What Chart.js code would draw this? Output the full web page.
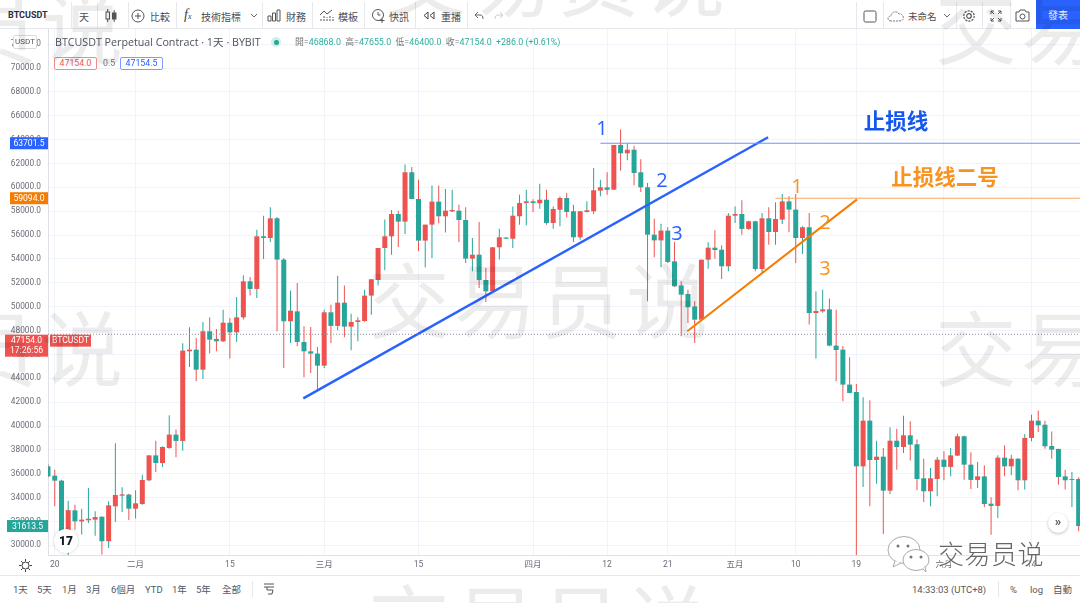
<!DOCTYPE html>
<html>
<head>
<meta charset="utf-8">
<title>BTCUSDT</title>
<script src="https://cdn.jsdelivr.net/npm/chart.js@4"></script>
<style>
html, body { margin: 0; padding: 0; background: #fff; }
#wrap { position: relative; width: 1080px; height: 603px; overflow: hidden; font-family: Roboto, "Noto Sans CJK TC", sans-serif; color: #50535e; filter: blur(0.3px); }
#chart { position: absolute; left: 0; top: 0; }
.abs { position: absolute; white-space: nowrap; }
.tb { font-size: 10px; top: 10px; line-height: 13px; font-family: "Noto Sans CJK TC", sans-serif; color: #4a4d57; }
.sep { position: absolute; top: 2px; width: 1px; height: 26px; background: #e6e8ee; }
.ft { font-size: 9.5px; top: 583px; line-height: 13px; color: #555862; font-family: Roboto, "Noto Sans CJK TC", sans-serif; }
.mark { position: absolute; white-space: nowrap; font-family: "Noto Sans CJK SC", sans-serif; font-weight: 400; font-size: 82px; letter-spacing: 4px; line-height: 86px; color: rgba(0,0,0,0.075); pointer-events: none; }
.num { position: absolute; font-family: "Open Sans", sans-serif; font-size: 20px; line-height: 24px; transform: translate(-50%, -50%); }
.blue { color: #2962ff; }
.orange { color: #f7931e; }
.note { position: absolute; font-family: "Noto Sans CJK SC", sans-serif; font-weight: 700; font-size: 21.5px; line-height: 26px; white-space: nowrap; transform: translate(-50%, -50%); }
svg { position: absolute; overflow: visible; }
</style>
</head>
<body>
<div id="wrap">
  <canvas id="chart" width="1080" height="603"></canvas>

  <!-- toolbar -->
  <div class="abs" style="left:0;top:0;width:1080px;height:29px;background:#fff;border-bottom:1px solid #e6e8ee;box-sizing:border-box"></div>
  <div class="abs tb" style="left:8px;font:700 9px Roboto;top:10px;color:#2a2e39">BTCUSDT</div>
  <div class="sep" style="left:71px"></div><div class="sep" style="left:97px"></div><div class="sep" style="left:128px"></div>
  <div class="sep" style="left:176px"></div><div class="sep" style="left:262px"></div><div class="sep" style="left:312px"></div>
  <div class="sep" style="left:364px"></div><div class="sep" style="left:415px"></div><div class="sep" style="left:467px"></div>
  <div class="sep" style="left:856px"></div><div class="sep" style="left:883px"></div><div class="sep" style="left:956px"></div>
  <div class="sep" style="left:982px"></div><div class="sep" style="left:1010px"></div>
  <div class="abs tb" style="left:79px">天</div>
  <svg style="left:105px;top:9px" width="12" height="14" fill="none" stroke="#555" stroke-width="1"><rect x="1" y="3" width="3.5" height="7"/><rect x="7.5" y="4" width="3.5" height="6" fill="#555"/><path d="M2.7 0v3M2.7 10v3M9.2 1v3M9.2 10v3"/></svg>
  <svg style="left:131px;top:9px" width="14" height="14" fill="none" stroke="#555" stroke-width="1"><circle cx="7" cy="7" r="6"/><path d="M7 4v6M4 7h6"/></svg>
  <div class="abs tb" style="left:150px">比較</div>
  <div class="abs tb" style="left:184px;top:7px;font:italic 14px 'Liberation Serif';color:#444">f<span style="font-size:8px">x</span></div>
  <div class="abs tb" style="left:201px">技術指標</div>
  <svg style="left:250px;top:13px" width="8" height="5" fill="none" stroke="#666"><path d="M1 1l3 3 3-3"/></svg>
  <svg style="left:267px;top:9px" width="14" height="13" fill="none" stroke="#555"><path d="M1 7h3v5H1zM5.5 4h3v8h-3zM10 1h3v11h-3z"/></svg>
  <div class="abs tb" style="left:286px">財務</div>
  <svg style="left:319px;top:9px" width="15" height="13" fill="none" stroke="#555"><path d="M1 6l4-4 3 3 5-4" /><path d="M2 12V9M5 12V7M8 12V8M11 12V6M14 12V8" stroke-dasharray="2 1"/></svg>
  <div class="abs tb" style="left:338px">模板</div>
  <svg style="left:371px;top:8px" width="15" height="15" fill="none" stroke="#555"><circle cx="7" cy="7" r="5.5"/><path d="M7 4v3h2.5M11 10v5M8.5 12.5h5"/></svg>
  <div class="abs tb" style="left:389px">快訊</div>
  <svg style="left:423px;top:11px" width="12" height="9" fill="none" stroke="#444"><path d="M5 1L1 4.5 5 8zM11 1L7 4.5 11 8z"/></svg>
  <div class="abs tb" style="left:441px">重播</div>
  <svg style="left:474px;top:11px" width="10" height="9" fill="none" stroke="#666"><path d="M4 1L1 4l3 3M1 4h5c2 0 3 1 3 4"/></svg>
  <svg style="left:494px;top:11px" width="10" height="9" fill="none" stroke="#ccc"><path d="M6 1l3 3-3 3M9 4H4C2 4 1 5 1 8"/></svg>
  <svg style="left:863px;top:9px" width="14" height="14" fill="none" stroke="#555"><rect x="1" y="2" width="12" height="11" rx="1.5"/></svg>
  <svg style="left:887px;top:9px" width="18" height="13" fill="none" stroke="#777" stroke-dasharray="2 1"><path d="M4 12C0 12 0 7 4 7 4 3 10 1 12 5 17 4 18 12 13 12z"/></svg>
  <div class="abs tb" style="left:908px;font-size:9.5px">未命名</div>
  <svg style="left:943px;top:13px" width="8" height="5" fill="none" stroke="#666"><path d="M1 1l3 3 3-3"/></svg>
  <svg style="left:962px;top:9px" width="14" height="14" fill="none" stroke="#555" stroke-width="1.2"><circle cx="7" cy="7" r="2.3"/><circle cx="7" cy="7" r="5.2" stroke-dasharray="2.2 1"/></svg>
  <svg style="left:990px;top:10px" width="12" height="12" fill="none" stroke="#555"><path d="M1 4V1h3M8 1h3v3M11 8v3H8M4 11H1V8M1 1l3 3M11 1L8 4M11 11L8 8M1 11l3-3"/></svg>
  <svg style="left:1015px;top:9px" width="15" height="13" fill="none" stroke="#555"><path d="M1 3h3l1-2h5l1 2h3v9H1z"/><circle cx="7.5" cy="7.5" r="2.5"/></svg>
  <div class="abs" style="left:1036px;top:0;width:44px;height:29px;background:#2962ff;color:#e8edff;font:10px/29px 'Noto Sans CJK TC';text-align:center">發表</div>

  <!-- legend row -->
  <div class="abs" style="left:13px;top:35px;width:24px;height:14px;box-sizing:border-box;background:#fff;border:1px solid #d8dae0;border-radius:2px;font:8px/12px Roboto;text-align:center;color:#555">USDT</div>
  <div class="abs" style="left:55px;top:35px;font:10.7px/14px 'Open Sans','Noto Sans CJK TC';color:#50535e">BTCUSDT Perpetual Contract · 1天 · BYBIT</div>
  <div class="abs" style="left:271px;top:37px;width:10px;height:10px;border-radius:50%;background:#d3eeea"></div>
  <div class="abs" style="left:274px;top:40px;width:4.5px;height:4.5px;border-radius:50%;background:#26a69a"></div>
  <div class="abs" style="left:295px;top:36px;font:8.85px/12px Roboto,'Noto Sans CJK TC';color:#2eae9f"><span style="color:#777">開=</span>46868.0 <span style="color:#777">&nbsp;高=</span>47655.0 <span style="color:#777">&nbsp;低=</span>46400.0 <span style="color:#777">&nbsp;收=</span>47154.0 &nbsp;+286.0 (+0.61%)</div>
  <div class="abs" style="left:54px;top:57px;width:43px;height:13px;box-sizing:border-box;background:#fff;border:1px solid #f48a88;border-radius:2px;font:8.8px/11px Roboto;text-align:center;color:#ef5350">47154.0</div>
  <div class="abs" style="left:103px;top:57px;font:8.8px/13px Roboto;color:#777">0.5</div>
  <div class="abs" style="left:120px;top:57px;width:43px;height:13px;box-sizing:border-box;background:#fff;border:1px solid #7f9dff;border-radius:2px;font:8.8px/11px Roboto;text-align:center;color:#2962ff">47154.5</div>

  <!-- hand drawn notes -->
  <div class="num blue" style="left:602px;top:128px">1</div>
  <div class="num blue" style="left:662px;top:180px">2</div>
  <div class="num blue" style="left:677px;top:233px">3</div>
  <div class="num orange" style="left:797px;top:186px">1</div>
  <div class="num orange" style="left:825px;top:222px">2</div>
  <div class="num orange" style="left:825px;top:268px">3</div>
  <div class="note" style="left:896px;top:120px;color:#1456f0">止损线</div>
  <div class="note" style="left:945px;top:176px;color:#f7931e">止损线二号</div>

  <!-- chart widgets -->
  <div class="abs" style="left:54px;top:529px;width:24px;height:24px;border-radius:50%;background:#fff;box-shadow:0 0 3px rgba(0,0,0,.2);font:900 12px/24px Roboto;text-align:center;color:#131722">17</div>
  <div class="abs" style="left:1048px;top:513px;width:20px;height:20px;border-radius:50%;background:#fff;box-shadow:0 1px 3px rgba(0,0,0,.25);font:700 13px/18px Roboto;text-align:center;color:#555">»</div>
  <svg style="left:19px;top:559px" width="13" height="13" fill="none" stroke="#444"><circle cx="6.5" cy="6.5" r="3.5"/><path d="M6.5 0v2.5M6.5 10.500V13M0 6.500h2.500M10.500 6.500H13M2 2l1.800 1.800M9.200 9.200L11 11M2 11l1.800-1.800M9.200 3.800L11 2"/></svg>

  <!-- footer -->
  <div class="abs" style="left:0;top:575px;width:1080px;height:28px;background:#fff;border-top:1px solid #e6e8ee;box-sizing:border-box"></div>
  <div class="abs ft" style="left:13px">1天</div>
  <div class="abs ft" style="left:37px">5天</div>
  <div class="abs ft" style="left:62px">1月</div>
  <div class="abs ft" style="left:86px">3月</div>
  <div class="abs ft" style="left:111px">6個月</div>
  <div class="abs ft" style="left:145px">YTD</div>
  <div class="abs ft" style="left:172px">1年</div>
  <div class="abs ft" style="left:196px">5年</div>
  <div class="abs ft" style="left:222px">全部</div>
  <div class="sep" style="left:252px;top:581px;height:16px"></div>
  <svg style="left:263px;top:583px" width="12" height="12" fill="none" stroke="#555"><path d="M1 1h10M1 4h10M4 4v3h6l-1 4H5"/></svg>
  <div class="abs ft" style="left:912px">14:33:03 (UTC+8)</div>
  <div class="sep" style="left:998px;top:581px;height:16px"></div>
  <div class="abs ft" style="left:1010px">%</div>
  <div class="abs ft" style="left:1030px">log</div>
  <div class="abs ft" style="left:1053px">自動</div>

  <!-- wechat stamp -->
  <svg style="left:887px;top:535px" width="44" height="38" stroke="#aaa" fill="#fff" stroke-width="1">
    <ellipse cx="17" cy="15" rx="16" ry="13.500"/><path d="M8 26l-2 6 8-4"/>
    <ellipse cx="29" cy="25" rx="13" ry="10.500"/><path d="M36 34l3 3-1-6"/>
    <circle cx="11" cy="11" r="1.500" fill="#777" stroke="none"/><circle cx="21" cy="11" r="1.500" fill="#777" stroke="none"/>
    <circle cx="24" cy="22" r="1.500" fill="#777" stroke="none"/><circle cx="34" cy="22" r="1.500" fill="#777" stroke="none"/>
  </svg>
  <div class="abs" style="left:938px;top:537px;font:300 26px/32px 'Noto Sans CJK SC';color:#666;text-shadow:0 0 2px #fff,0 0 2px #fff;letter-spacing:0.500px">交易员说</div>

  <!-- watermarks -->
  <div class="mark" style="left:368px;top:254px">交易员说</div>
  <div class="mark" style="left:368px;top:576px">交易员说</div>
  <div class="mark" style="left:385px;top:-68px">交易员说</div>
  <div class="mark" style="left:935px;top:302px">交易</div>
  <div class="mark" style="left:935px;top:-20px">交易</div>
  <div class="mark" style="left:-45px;top:302px">员说</div>
  <div class="mark" style="left:-45px;top:-20px">员说</div>
</div>

<script>
// candles start on 19 Jan 2021, one entry per day
const opens = [36620,35840,35420,30900,32930,32000,32100,32150,32400,30340,33270,34160,34250,33070,33460,35450,37540,36900,38160,39280,38750,46260,46400,44720,47940,47300,47100,48660,47850,49110,52130,51490,55900,55760,57410,53950,48780,49610,47040,46260,46070,45060,49530,48390,50340,48330,48720,48800,50930,52240,54920,55900,57770,57130,61270,59030,55540,56880,58810,57580,57990,58050,57270,54030,54360,52240,51290,54980,55800,55700,57580,58690,58830,58670,58970,57020,58130,59110,58000,55820,57940,58000,59730,60000,59810,63560,62860,63160,61270,60010,56040,55560,56380,53800,51790,51070,50030,48915,53940,54950,54780,53390,57630,57770,56520,57160,53160,57410,56260,57300,58830,58140,55760,56660,49470,49610,49780,46740,46400,43470,42850,36620,40450,37150,37430,34580,38770,38240,39220,38470,35620,34530,35560,37180,36570,37520,39140,36760,35480,35780,33490,33300,37350,36620,37260,35450,39000,40450,40110,38330,38080,35780,35480,35560];
const highs = [36800,36340,35500,33740,33400,33070,34800,32850,32420,33690,38550,34860,34330,34610,35920,37540,38770,38300,40900,39700,46930,48270,47380,48720,49110,48130,49750,49050,50820,52630,52490,56460,57630,58330,57520,54090,51350,51990,48360,48300,46620,49750,50170,52600,51770,49420,49110,51430,52300,54920,57320,58110,58050,61910,61710,60650,56880,60150,60150,59870,59810,58550,58330,55760,57100,53250,54980,56540,55830,58410,59390,59810,59000,60310,59810,58410,59240,59530,58550,58030,58830,61630,60650,61270,63560,64850,63700,63500,62350,60370,57380,56960,56660,55430,52130,51430,50450,53940,55400,56400,55150,57860,58410,58920,57210,57210,57860,58330,58750,59450,59250,59450,56740,57860,51290,51430,50680,49750,46700,45760,43520,42410,42150,38770,38160,39890,39780,40870,40390,38860,37260,36480,37400,37880,38160,39360,39200,37800,36980,36710,34020,37540,38380,37600,37300,39330,40950,41290,40450,39550,38100,36340,36150,35700];
const lows = [35700,33270,30000,29000,31310,30900,31870,30810,29220,29780,31960,32790,32120,32240,33400,35360,36150,36570,38100,37380,37930,44950,43750,43940,46070,46260,47040,45650,47040,48920,50950,50730,54000,55430,47940,44860,46960,46680,44080,44450,43050,44860,46960,48020,47430,46340,47100,48740,49330,51770,53050,54360,55000,56100,59000,54640,53300,54090,57000,56230,57940,55430,53670,52970,51570,50400,51250,53950,55680,54920,56880,56820,57940,58220,56880,56540,56740,57490,55430,55620,57900,57770,59250,59390,59800,61400,62270,60190,59620,50450,54140,53300,53670,51650,47520,48640,46960,48880,53190,54030,52320,52970,57020,56040,56460,52970,52830,55200,55200,56930,56240,53670,54420,48500,45650,49500,46680,43750,42070,42770,29000,34890,33270,35170,30950,34300,36340,37740,37100,34610,33630,33270,34110,35450,35780,37480,35500,34720,34810,33180,30890,32290,35780,35870,34610,34670,38720,39500,38100,37260,35080,34670,33210,31170];
const closes = [35780,35420,30900,32950,32010,32150,32230,32370,30340,33350,34220,34270,33070,33520,35480,37540,36900,38240,39280,38750,46320,46400,44720,47940,47240,47100,48660,47850,49110,52130,51490,55900,55760,57410,53950,48780,49670,47040,46260,46070,45060,49530,48390,50340,48330,48720,48860,50930,52300,54920,55900,57770,57130,61270,59030,55540,56880,58810,57580,58050,58110,57270,54030,54360,52240,51290,54980,55820,55700,57630,58690,58830,58690,58970,57020,58190,59110,57940,55820,58000,58080,59760,60010,59800,63560,62860,63160,61210,60010,56040,55560,56380,53750,51710,51010,49950,48915,53940,54950,54750,53390,57630,57770,56520,57160,53160,57410,56260,57350,58830,58140,55760,56660,49470,49640,49780,46740,46370,43470,42770,36620,40450,37150,37430,34580,38770,38240,39220,38440,35560,34530,35620,37180,36570,37540,39140,36760,35480,35780,33460,33300,37350,36620,37260,35450,39000,40450,40060,38300,38020,35730,35450,35560,31613.5];

const dayTicks = [1,13,27,41,55,72,83,92,102,111,120,133,146];
const dayLabels = ['20','二月','15','三月','15','四月','12','21','五月','10','19','六月','14'];
const priceTicks = [30000,32000,34000,36000,38000,40000,42000,44000,46000,48000,50000,52000,54000,56000,58000,60000,62000,64000,66000,68000,70000,72000];

const stopLine1 = 63701.5;
const stopLine2 = 59094;
const crosshairPrice = 47690;
const lastPrice = 47154;
const lastClose = 31613.5;
// trend lines as [day, price]
const blueTrend = [[37.9,42320],[106.9,64200]];
const orangeTrend = [[94.9,47940],[120.1,59000]];
const stopLine1From = 82;
const stopLine2From = 108;

const RED = '#ef5350';
const GREEN = '#26a69a';
const BLUE = '#2962ff';
const ORANGE = '#f57c00';

const lastDay = 153.2;

const bodyColors = opens.map((o, i) => closes[i] >= o ? RED : GREEN);
const wickColors = opens.map((o, i) => closes[i] >= o ? GREEN : RED);   // the wicks are the other colour in this picture

function lineSet(points, color, width, dash) {
    return {
        type: 'line',
        data: points.map(p => ({x: p[0], y: p[1]})),
        borderColor: color,
        borderWidth: width,
        borderDash: dash || [],
        pointRadius: 0,
        order: 0
    };
}

// price boxes on the left axis
const priceTags = {
    id: 'priceTags',
    afterDraw(chart) {
        const ctx = chart.ctx;
        const y = chart.scales.y;
        const tag = (x, top, w, h, bg, text, size) => {
            ctx.fillStyle = bg;
            ctx.fillRect(x, top, w, h);
            ctx.fillStyle = '#fff';
            ctx.font = (size || 8.6) + 'px Roboto';
            ctx.textAlign = 'center';
            ctx.textBaseline = 'middle';
            ctx.fillText(text, x + w / 2, top + h / 2 + 0.5);
        };
        tag(10, y.getPixelForValue(stopLine1) - 6, 38, 12, '#2962ff', stopLine1.toFixed(1));
        tag(10, y.getPixelForValue(stopLine2) - 6, 38, 12, ORANGE, stopLine2.toFixed(1));
        const py = y.getPixelForValue(lastPrice);
        tag(5, py - 6, 43, 22, RED, '');
        ctx.fillStyle = '#fff';
        ctx.fillText(lastPrice.toFixed(1), 26.5, py);
        ctx.fillText('17:26:56', 26.5, py + 10);
        tag(50, py - 6, 41, 12, RED, 'BTCUSDT');
        tag(7, y.getPixelForValue(lastClose) - 6, 41, 12, GREEN, lastClose.toFixed(1));
    }
};

new Chart(document.getElementById('chart'), {
    type: 'bar',
    data: {
        datasets: [
            lineSet([[stopLine1From, stopLine1], [lastDay, stopLine1]], '#6d93ff', 1),
            lineSet([[stopLine2From, stopLine2], [lastDay, stopLine2]], '#f9a65a', 1),
            lineSet([[0, crosshairPrice], [lastDay, crosshairPrice]], '#8a8d96', 1, [1, 2]),
            lineSet(blueTrend, BLUE, 2.4),
            lineSet(orangeTrend, ORANGE, 2),
            {
                data: opens.map((o, i) => ({x: i, y: [o, closes[i]]})),
                backgroundColor: bodyColors,
                barThickness: 5,
                grouped: false,
                inflateAmount: 0,
                order: 1
            },
            {
                data: lows.map((l, i) => ({x: i, y: [l, highs[i]]})),
                backgroundColor: wickColors,
                barThickness: 1,
                grouped: false,
                inflateAmount: 0,
                order: 2
            }
        ]
    },
    plugins: [priceTags],
    options: {
        responsive: false,
        animation: false,
        events: [],
        layout: {padding: {top: 29, left: 0, right: 0, bottom: 28}},
        plugins: {legend: {display: false}, tooltip: {enabled: false}},
        scales: {
            x: {
                type: 'linear',
                offset: false,
                bounds: 'data',
                min: 0,
                max: lastDay,
                grid: {offset: false, color: '#f0f3fa', drawTicks: false},
                border: {color: '#dfe1e8'},
                ticks: {
                    autoSkip: false,
                    maxRotation: 0,
                    padding: 5,
                    color: '#6a6d78',
                    font: {family: 'Roboto, "Noto Sans CJK TC"', size: 8.5},
                    callback: v => dayLabels[dayTicks.indexOf(v)]
                },
                afterBuildTicks: s => { s.ticks = dayTicks.map(v => ({value: v})); },
                afterFit: s => { s.height = 20; }
            },
            y: {
                type: 'linear',
                bounds: 'data',
                min: 29188,
                max: 73278,
                grid: {color: '#f0f3fa', drawTicks: false},
                border: {color: '#dfe1e8'},
                ticks: {
                    padding: 7,
                    color: '#6a6d78',
                    font: {family: 'Roboto', size: 8.3},
                    callback: v => v.toFixed(1)
                },
                afterBuildTicks: s => { s.ticks = priceTicks.map(v => ({value: v})); },
                afterFit: s => { s.width = 48; }
            }
        }
    }
});
</script>
</body>
</html>
